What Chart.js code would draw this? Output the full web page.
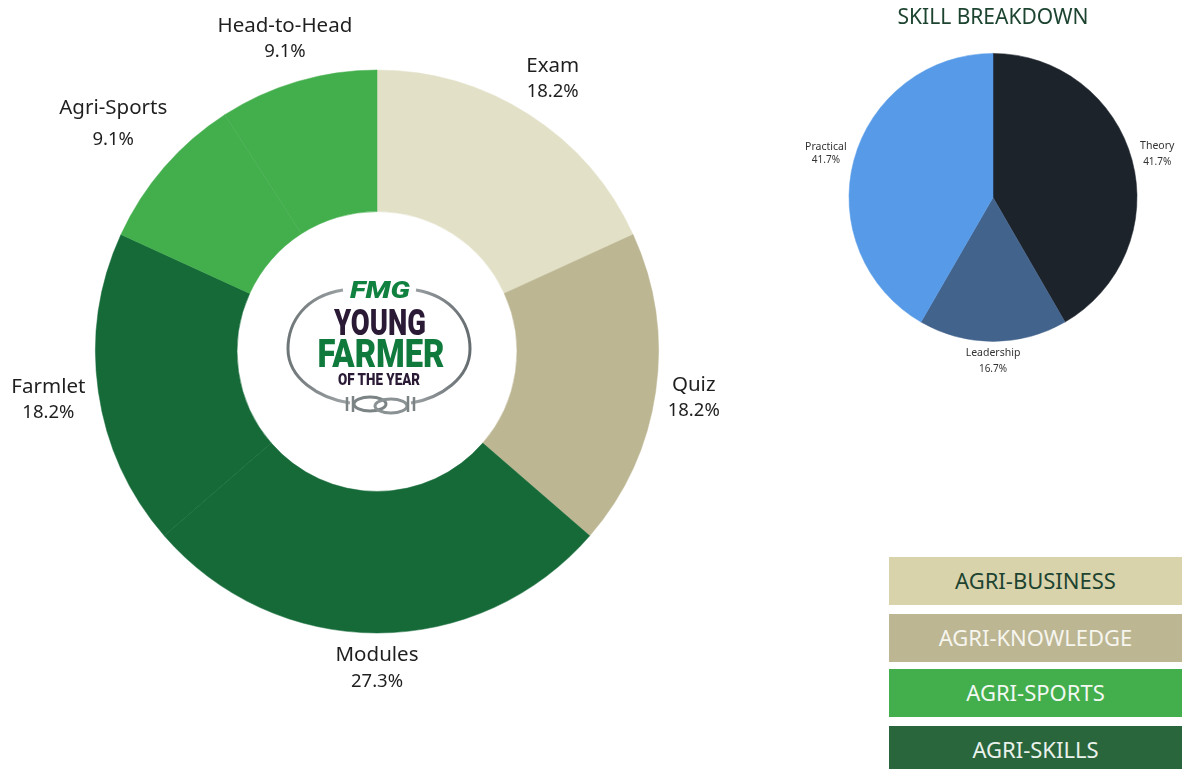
<!DOCTYPE html>
<html>
<head>
<meta charset="utf-8">
<title>Young Farmer of the Year</title>
<script src="https://cdn.jsdelivr.net/npm/chart.js@4"></script>
<style>
  html, body { margin: 0; padding: 0; width: 1182px; height: 769px; overflow: hidden; background: #fff; font-family: "Noto Sans", sans-serif; }
  canvas { position: absolute; }
  #eventChart { left: 0; top: 0; }
  #skillChart { left: 804px; top: 0; }
  #logo { position: absolute; left: 270px; top: 270px; }
  .key { position: absolute; left: 889px; width: 293px; text-align: center; font-size: 22px; }
</style>
</head>
<body>
<canvas id="eventChart" width="754" height="703"></canvas>
<canvas id="skillChart" width="378" height="400"></canvas>

<svg id="logo" width="220" height="160" viewBox="270 270 220 160">
  <defs>
    <linearGradient id="wire" x1="0" y1="0" x2="1" y2="0">
      <stop offset="0" stop-color="#6f7678"/>
      <stop offset="0.5" stop-color="#b9bec0"/>
      <stop offset="1" stop-color="#666d70"/>
    </linearGradient>
  </defs>
  <path d="M343 290 C305 296 288 322 288 349 C288 378 318 398 350 403 M411 403 C441 398 470 378 470 349 C470 322 452 296 416 290" fill="none" stroke="url(#wire)" stroke-width="3"/>
  <ellipse cx="370" cy="404" rx="16" ry="7" fill="none" stroke="#7c8385" stroke-width="3"/>
  <ellipse cx="391" cy="406" rx="16" ry="7" fill="none" stroke="#8b9294" stroke-width="3"/>
  <path d="M347 397 V411 M353 396 V412 M408 396 V412 M414 397 V411" stroke="#7c8385" stroke-width="2.5"/>
  <text x="380" y="298" text-anchor="middle" font-family="Roboto" font-weight="900" font-style="italic" font-size="23" fill="#11813f" textLength="60" lengthAdjust="spacingAndGlyphs">FMG</text>
  <text x="380" y="335" text-anchor="middle" font-family="Roboto" font-weight="900" font-size="37" fill="#2a1a35" textLength="92" lengthAdjust="spacingAndGlyphs">YOUNG</text>
  <text x="381" y="367" text-anchor="middle" font-family="Roboto" font-weight="900" font-size="38" fill="#0f7a3c" textLength="127" lengthAdjust="spacingAndGlyphs">FARMER</text>
  <text x="379" y="385" text-anchor="middle" font-family="Roboto" font-weight="900" font-size="16" fill="#2a1a35" textLength="82" lengthAdjust="spacingAndGlyphs">OF THE YEAR</text>
</svg>

<script>
const eventLabels = ["Exam", "Quiz", "Modules", "Farmlet", "Agri-Sports", "Head-to-Head"];
const eventValues = [2, 2, 3, 2, 1, 1];
const eventColors = ["#e2e1c8", "#bcb693", "#156a38", "#156a38", "#42ae4c", "#42ae4c"];

const skillLabels = ["Theory", "Leadership", "Practical"];
const skillValues = [5, 2, 5];
const skillColors = ["#1c232b", "#42638c", "#579be8"];

const keyLabels = ["AGRI-BUSINESS", "AGRI-KNOWLEDGE", "AGRI-SPORTS", "AGRI-SKILLS"];
const keyColors = ["#d9d3ab", "#bcb693", "#42ae4c", "#2a663c"];
const keyTextColors = ["#1d4430", "#f6f5ee", "#f2f8f2", "#eaf2ec"];

// how far from the pie centre each label sits, and the space between its two lines
const eventLabelDist = [325, 320, 316, 332, 349, 327];
const eventLabelGap = [26, 26, 26, 26, 32, 26];
const skillLabelDist = [170, 163, 173];
const skillLabelGap = [16, 16, 14];

// draws "name / percent" outside each slice, no datalabels plugin available
const sliceLabels = {
  id: "sliceLabels",
  afterDatasetsDraw(chart, args, opts) {
    const ctx = chart.ctx;
    const values = chart.data.datasets[0].data;
    const total = values.reduce((a, b) => a + b, 0);
    ctx.save();
    ctx.fillStyle = opts.color;
    ctx.textAlign = "center";
    ctx.textBaseline = "middle";
    chart.getDatasetMeta(0).data.forEach((arc, i) => {
      const mid = (arc.startAngle + arc.endAngle) / 2;
      const x = arc.x + Math.cos(mid) * opts.dist[i];
      const y = arc.y + Math.sin(mid) * opts.dist[i] + 1;
      ctx.font = opts.size + 'px "Noto Sans"';
      ctx.fillText(chart.data.labels[i], x, y - opts.gap[i] / 2);
      ctx.font = opts.pctSize + 'px "Noto Sans"';
      ctx.fillText((values[i] / total * 100).toFixed(1) + "%", x, y + opts.gap[i] / 2);
    });
    ctx.restore();
  },
};

new Chart(document.getElementById("eventChart"), {
  type: "doughnut",
  data: {
    labels: eventLabels,
    datasets: [{ data: eventValues, backgroundColor: eventColors, borderColor: eventColors, borderWidth: 0.5, radius: 281.5, cutout: "49.7%" }],
  },
  plugins: [sliceLabels],
  options: {
    responsive: false,
    animation: false,
    plugins: {
      legend: { display: false },
      tooltip: { enabled: false },
      sliceLabels: { dist: eventLabelDist, gap: eventLabelGap, size: 20.5, pctSize: 18.5, color: "#1f1f1f" },
    },
  },
});

new Chart(document.getElementById("skillChart"), {
  type: "pie",
  data: {
    labels: skillLabels,
    datasets: [{ data: skillValues, backgroundColor: skillColors, borderColor: skillColors, borderWidth: 0.5, radius: 144 }],
  },
  plugins: [sliceLabels],
  options: {
    responsive: false,
    animation: false,
    layout: { padding: { bottom: 36.4 } },
    plugins: {
      legend: { display: false },
      tooltip: { enabled: false },
      title: { display: true, text: "SKILL BREAKDOWN", color: "#1d4430", font: { family: "Noto Sans", size: 21, weight: "normal" }, padding: { top: 5, bottom: 1 } },
      sliceLabels: { dist: skillLabelDist, gap: skillLabelGap, size: 10.5, pctSize: 10, color: "#333" },
    },
  },
});

// colour key, bottom right
const keyTops = [557, 614, 669, 726];
const keyHeights = [48, 48, 48, 43];
keyLabels.forEach((label, i) => {
  const div = document.createElement("div");
  div.className = "key";
  div.textContent = label;
  div.style.top = keyTops[i] + "px";
  div.style.height = keyHeights[i] + "px";
  div.style.lineHeight = "47px";
  div.style.background = keyColors[i];
  div.style.color = keyTextColors[i];
  document.body.appendChild(div);
});
</script>
</body>
</html>
